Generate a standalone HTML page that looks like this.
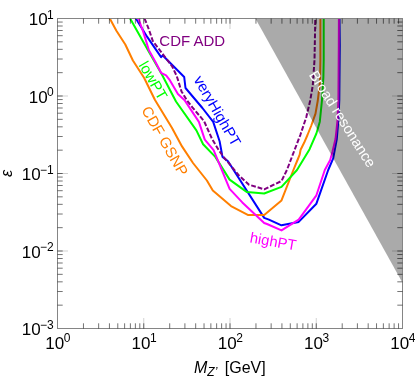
<!DOCTYPE html>
<html><head><meta charset="utf-8"><title>chart</title>
<style>
html,body{margin:0;padding:0;background:#fff;}
body{width:415px;height:377px;overflow:hidden;font-family:"Liberation Sans",sans-serif;}
svg{display:block;will-change:transform;opacity:0.999;}
text{font-family:"Liberation Sans",sans-serif;}
</style></head><body>
<svg width="415" height="377" viewBox="0 0 415 377">
<rect width="415" height="377" fill="#fff"/>

<g fill="none" stroke-width="2" stroke-linejoin="round">
<path d="M135.9 18.5 L147.2 36.9 L161.1 57.1 L162.8 55.5 L184.2 77 L185.5 88 L202.4 108 L213.2 121.9 L219.6 141.3 L222.5 156.9 L228 161.3 L264.2 217.9 L268.9 219.6 L281.5 225.3 L298.7 221.9 L316.4 203.7 L328.2 170 L333.2 158.4 L336.8 139 L338.4 120 L339.3 100 L339.8 45 L339.5 18.5" stroke="#0000ff"/>
<path d="M109.8 18.5 L116.4 30.8 L125.3 44.5 L132.9 60.5 L144.2 78 L155 100 L171.9 127.8 L182 146.4 L193 163 L206.9 180.5 L212.8 190.6 L231 206.1 L247.8 214.9 L264.2 214.9 L281.5 200.4 L293 171 L297.7 159.5 L299.7 154.6 L300.6 149.7 L304.1 142.8 L307.5 135 L311.3 125.5 L315.5 113.7 L317.8 100.5 L320 81.9 L320.4 60 L320.4 18.5" stroke="#ff7f00"/>
<path d="M130.1 18.5 L148 50.2 L161.9 74.5 L176 101.5 L196.4 130.4 L203.1 144.2 L215.3 156.9 L229.6 179.6 L247 192.1 L264.2 193.5 L281.5 186.9 L297 170 L309.6 149.2 L316.4 133.5 L319.8 121.7 L322 100 L323.4 76.9 L323.7 60 L323.7 18.5" stroke="#00ff00"/>
<path d="M138.3 18.5 L143.1 31.4 L148.9 50.2 L155.6 62.2 L161.1 72.8 L166.1 75.4 L169.4 79.6 L177.9 94.1 L184.9 100.6 L198.9 121.9 L204.8 139.6 L213.6 150.1 L229.6 188.9 L242.3 202.4 L264.2 223 L267 224 L281.5 230.4 L298.7 219.7 L316.4 195.3 L324.8 170 L330.2 160 L332.5 151.5 L335.5 139 L336.5 130 L337.5 120 L338.4 100 L338.8 45 L338.9 18.5" stroke="#ff00ff"/>
<path d="M144.6 18.5 L148.9 29.5 L152.8 41 L158.6 48.7 L172 66.1 L176.8 76.2 L181.5 91.4 L187.1 100.6 L192.4 107.4 L204 121 L212 138.8 L218.5 149.7 L223.5 156.9 L238.9 175.4 L249 184.7 L264.2 189.3 L281.5 181 L286.9 170 L300.4 134.8 L306.3 117.1 L310.2 100.5 L312.8 85.3 L314.5 60 L315.3 18.5" stroke="#800080" stroke-dasharray="4.8 1.9"/>
</g>
<text transform="translate(159.3 46.2) rotate(0)" font-size="15" fill="#800080">CDF ADD</text>
<text transform="translate(138.3 65) rotate(60)" font-size="15" fill="#00ff00">lowPT</text>
<text transform="translate(193.3 79.5) rotate(60)" font-size="15" fill="#0000ff">veryHighPT</text>
<text transform="translate(141 110) rotate(60)" font-size="15" fill="#ff7f00">CDF GSNP</text>
<text transform="translate(249.2 242.3) rotate(10)" font-size="14.8" fill="#ff00ff">highPT</text>
<path d="M255.4 18.5 L402.5 18.5 L402.5 282.85 Z" fill="#000" fill-opacity="0.335"/>
<text transform="translate(308.5 74.8) rotate(57.6)" font-size="14.6" fill="#ffffff">Broad resonance</text>
<g stroke="#000" fill="none">
<rect x="57.5" y="18.5" width="345" height="310" stroke="#858585" stroke-width="1"/>
<path d="M143.75 328.5v-10.5M143.75 18.5v10.5M57.5 251h10.5M402.5 251h-10.5M230 328.5v-10.5M230 18.5v10.5M57.5 173.5h10.5M402.5 173.5h-10.5M316.25 328.5v-10.5M316.25 18.5v10.5M57.5 96h10.5M402.5 96h-10.5" stroke="#000" stroke-opacity="0.18" stroke-width="1"/>
<path d="M83.46 328.5v-5.2M83.46 18.5v5.2M57.5 305.17h5.2M402.5 305.17h-5.2M98.65 328.5v-5.2M98.65 18.5v5.2M57.5 291.52h5.2M402.5 291.52h-5.2M109.43 328.5v-5.2M109.43 18.5v5.2M57.5 281.84h5.2M402.5 281.84h-5.2M117.79 328.5v-5.2M117.79 18.5v5.2M57.5 274.33h5.2M402.5 274.33h-5.2M124.62 328.5v-5.2M124.62 18.5v5.2M57.5 268.19h5.2M402.5 268.19h-5.2M130.39 328.5v-5.2M130.39 18.5v5.2M57.5 263h5.2M402.5 263h-5.2M135.39 328.5v-5.2M135.39 18.5v5.2M57.5 258.51h5.2M402.5 258.51h-5.2M139.8 328.5v-5.2M139.8 18.5v5.2M57.5 254.55h5.2M402.5 254.55h-5.2M143.75 328.5v-5.2M143.75 18.5v5.2M57.5 251h5.2M402.5 251h-5.2M169.71 328.5v-5.2M169.71 18.5v5.2M57.5 227.67h5.2M402.5 227.67h-5.2M184.9 328.5v-5.2M184.9 18.5v5.2M57.5 214.02h5.2M402.5 214.02h-5.2M195.68 328.5v-5.2M195.68 18.5v5.2M57.5 204.34h5.2M402.5 204.34h-5.2M204.04 328.5v-5.2M204.04 18.5v5.2M57.5 196.83h5.2M402.5 196.83h-5.2M210.87 328.5v-5.2M210.87 18.5v5.2M57.5 190.69h5.2M402.5 190.69h-5.2M216.64 328.5v-5.2M216.64 18.5v5.2M57.5 185.5h5.2M402.5 185.5h-5.2M221.64 328.5v-5.2M221.64 18.5v5.2M57.5 181.01h5.2M402.5 181.01h-5.2M226.05 328.5v-5.2M226.05 18.5v5.2M57.5 177.05h5.2M402.5 177.05h-5.2M230 328.5v-5.2M230 18.5v5.2M57.5 173.5h5.2M402.5 173.5h-5.2M255.96 328.5v-5.2M255.96 18.5v5.2M57.5 150.17h5.2M402.5 150.17h-5.2M271.15 328.5v-5.2M271.15 18.5v5.2M57.5 136.52h5.2M402.5 136.52h-5.2M281.93 328.5v-5.2M281.93 18.5v5.2M57.5 126.84h5.2M402.5 126.84h-5.2M290.29 328.5v-5.2M290.29 18.5v5.2M57.5 119.33h5.2M402.5 119.33h-5.2M297.12 328.5v-5.2M297.12 18.5v5.2M57.5 113.19h5.2M402.5 113.19h-5.2M302.89 328.5v-5.2M302.89 18.5v5.2M57.5 108h5.2M402.5 108h-5.2M307.89 328.5v-5.2M307.89 18.5v5.2M57.5 103.51h5.2M402.5 103.51h-5.2M312.3 328.5v-5.2M312.3 18.5v5.2M57.5 99.55h5.2M402.5 99.55h-5.2M316.25 328.5v-5.2M316.25 18.5v5.2M57.5 96h5.2M402.5 96h-5.2M342.21 328.5v-5.2M342.21 18.5v5.2M57.5 72.67h5.2M402.5 72.67h-5.2M357.4 328.5v-5.2M357.4 18.5v5.2M57.5 59.02h5.2M402.5 59.02h-5.2M368.18 328.5v-5.2M368.18 18.5v5.2M57.5 49.34h5.2M402.5 49.34h-5.2M376.54 328.5v-5.2M376.54 18.5v5.2M57.5 41.83h5.2M402.5 41.83h-5.2M383.37 328.5v-5.2M383.37 18.5v5.2M57.5 35.69h5.2M402.5 35.69h-5.2M389.14 328.5v-5.2M389.14 18.5v5.2M57.5 30.5h5.2M402.5 30.5h-5.2M394.14 328.5v-5.2M394.14 18.5v5.2M57.5 26.01h5.2M402.5 26.01h-5.2M398.55 328.5v-5.2M398.55 18.5v5.2M57.5 22.05h5.2M402.5 22.05h-5.2" stroke="#000" stroke-opacity="0.55" stroke-width="1"/>
</g>
<text x="45.31" y="348.6" font-size="17" fill="#000">10<tspan font-size="12" dy="-6.4" dx="-0.6">0</tspan></text>
<text x="131.56" y="348.6" font-size="17" fill="#000">10<tspan font-size="12" dy="-6.4" dx="-0.6">1</tspan></text>
<text x="217.81" y="348.6" font-size="17" fill="#000">10<tspan font-size="12" dy="-6.4" dx="-0.6">2</tspan></text>
<text x="304.06" y="348.6" font-size="17" fill="#000">10<tspan font-size="12" dy="-6.4" dx="-0.6">3</tspan></text>
<text x="390.31" y="348.6" font-size="17" fill="#000">10<tspan font-size="12" dy="-6.4" dx="-0.6">4</tspan></text>
<text x="53.8" y="25" font-size="17" fill="#000" text-anchor="end">10<tspan font-size="12" dy="-6.4" dx="-0.6">1</tspan></text>
<text x="53.8" y="102.5" font-size="17" fill="#000" text-anchor="end">10<tspan font-size="12" dy="-6.4" dx="-0.6">0</tspan></text>
<text x="53.8" y="180" font-size="17" fill="#000" text-anchor="end">10<tspan font-size="12" dy="-6.4" dx="-0.6">−1</tspan></text>
<text x="53.8" y="257.5" font-size="17" fill="#000" text-anchor="end">10<tspan font-size="12" dy="-6.4" dx="-0.6">−2</tspan></text>
<text x="53.8" y="335" font-size="17" fill="#000" text-anchor="end">10<tspan font-size="12" dy="-6.4" dx="-0.6">−3</tspan></text>
<text x="194" y="372.5" font-size="16" fill="#000"><tspan font-style="italic">M</tspan><tspan font-style="italic" font-size="12" dy="3.5">Z’</tspan><tspan dy="-3.5" dx="3"> [GeV]</tspan></text>
<text transform="translate(12.3 177.1) rotate(-90)" font-size="16.3" font-style="italic" fill="#000">ε</text>
</svg></body></html>
